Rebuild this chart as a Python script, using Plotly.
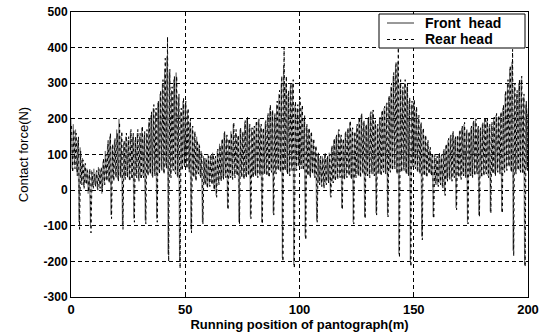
import plotly.graph_objects as go

# ---- data (one peak + one trough per metre) ----
front_peaks = [
    200,185,170,140,120,90,70,60,50,55, 60,50,65,55,80,110,130,150,120,140,
    170,200,150,130,150,140,165,150,140,160, 150,175,150,160,190,210,230,220,245,270,
    300,340,375,330,280,310,330,260,220,250,
    240,220,190,175,160,150,130,110,95,90, 100,95,105,90,110,130,140,160,150,140,
    165,185,160,150,170,160,190,200,180,170, 175,190,195,180,170,190,210,230,220,210,
    240,270,300,350,300,270,290,300,240,230,
    250,230,200,180,170,160,140,120,100,90, 95,100,90,105,120,140,150,165,150,140,
    160,170,190,170,160,180,200,210,190,180, 200,215,220,190,180,200,220,230,240,260,
    290,320,350,360,300,280,300,290,250,240,
    245,225,205,185,170,150,135,115,100,95, 90,100,95,110,125,140,150,160,145,150,
    165,175,185,165,160,175,190,195,175,170, 185,200,195,180,185,200,210,205,215,230,
    270,300,340,360,290,270,300,310,260,240,
]
front_troughs = [
    60,70,50,-90,20,10,20,-10,-100,10, 15,5,10,-10,20,30,25,-70,30,40,
    30,40,-100,35,40,30,35,-80,40,30, 35,40,-85,45,50,40,45,-80,50,60,
    50,70,-180,40,60,50,40,-200,60,70,
    70,60,-110,40,30,50,40,-90,20,10, 15,20,5,-15,20,30,35,40,-50,40,
    35,40,45,-90,40,35,40,45,-75,40, 45,40,45,-90,50,45,40,55,-65,50,
    60,55,-190,60,50,45,60,-210,60,70,
    70,60,-130,45,40,50,40,-85,20,15, 10,20,25,-15,25,30,35,40,-50,35,
    40,45,35,-90,40,45,40,50,-75,45, 40,50,45,-65,50,45,55,50,-70,55,
    60,65,50,-180,55,60,50,45,-200,70,
    65,55,50,-130,45,40,50,45,-75,20, 15,20,10,-10,30,35,30,40,-50,40,
    35,45,40,-90,45,40,45,50,-70,40, 45,50,40,-60,50,45,55,50,-60,55,
    60,70,55,-170,50,60,55,50,-210,60,
]
rear_peaks = [
    180,170,160,150,110,85,75,55,60,50, 45,55,60,65,90,100,140,160,130,145,
    160,190,165,140,160,150,170,160,150,170, 160,180,165,170,200,220,240,230,250,280,
    310,370,430,340,290,320,320,270,230,260,
    250,230,200,180,165,140,125,105,90,85, 95,100,100,95,115,125,145,165,155,145,
    160,190,170,155,175,165,195,205,185,175, 180,195,200,185,175,195,215,240,225,215,
    250,280,320,400,320,280,300,310,250,240,
    260,240,210,185,175,165,145,125,105,95, 90,105,95,100,125,145,155,170,155,145,
    165,175,195,175,165,185,205,215,195,185, 205,220,225,195,185,205,225,235,245,265,
    300,330,360,400,310,290,310,300,260,250,
    255,235,210,190,175,155,140,120,105,100, 95,105,100,115,130,145,155,165,150,155,
    170,180,190,170,165,180,195,200,180,175, 190,205,200,185,190,205,215,210,220,240,
    280,310,350,395,300,280,310,320,270,250,
]
rear_troughs = [
    50,60,40,-110,15,5,15,-5,-120,5, 10,0,5,-5,15,25,20,-80,25,35,
    25,35,-110,30,35,25,30,-90,35,25, 30,35,-95,40,45,35,40,-90,45,55,
    45,60,-200,35,55,45,35,-220,55,65,
    60,50,-120,35,25,45,35,-95,15,5, 10,15,0,-20,15,25,30,35,-55,35,
    30,35,40,-95,35,30,35,40,-80,35, 40,35,40,-95,45,40,35,50,-70,45,
    55,50,-200,55,45,40,55,-220,55,65,
    60,55,-140,40,35,45,35,-90,15,10, 5,15,20,-20,20,25,30,35,-55,30,
    35,40,30,-95,35,40,35,45,-80,40, 35,45,40,-70,45,40,50,45,-75,50,
    55,60,45,-190,50,55,45,40,-215,65,
    60,50,45,-140,40,35,45,40,-80,15, 10,15,5,-15,25,30,25,35,-55,35,
    30,40,35,-95,40,35,40,45,-75,35, 40,45,35,-65,45,40,50,45,-65,50,
    55,65,50,-185,45,55,50,45,-215,55,
]
front_end = 230
rear_end = 220

x_ticks = [0, 50, 100, 150, 200]
y_ticks = [-300, -200, -100, 0, 100, 200, 300, 400, 500]
series_names = ["Front  head", "Rear head"]


def build(peaks, troughs, end, off_p, off_t):
    xs, ys = [], []
    for m, (p, t) in enumerate(zip(peaks, troughs)):
        xs += [m + off_p, m + off_t]
        ys += [p, t]
    xs.append(len(peaks))
    ys.append(end)
    return xs, ys


fx, fy = build(front_peaks, front_troughs, front_end, 0.0, 0.5)
rx, ry = build(rear_peaks, rear_troughs, rear_end, 0.25, 0.75)

front_line = dict(color="#4a4a4a", width=0.6)
rear_line = dict(color="#000000", width=1, dash="dot")

fig = go.Figure()
fig.add_trace(go.Scatter(x=fx, y=fy, mode="lines", name=series_names[0],
                         line=front_line, showlegend=False))
fig.add_trace(go.Scatter(x=rx, y=ry, mode="lines", name=series_names[1],
                         line=rear_line, showlegend=False))

W, H = 550, 336
PL, PT, PW, PH = 71, 12, 457, 285


def px(x):
    return (x - PL) / PW


def py(y):
    return 1 - (y - PT) / PH


font_family = "Liberation Sans, Arial, sans-serif"

# legend box drawn as shapes + text (MATLAB-style compact legend)
shapes = [
    dict(type="rect", xref="paper", yref="paper", x0=px(379), x1=px(525), y0=py(48), y1=py(14),
         line=dict(color="black", width=1), fillcolor="white", layer="above"),
    dict(type="line", xref="paper", yref="paper", x0=px(387), x1=px(414), y0=py(23), y1=py(23),
         line=dict(color="#333333", width=1), layer="above"),
    dict(type="line", xref="paper", yref="paper", x0=px(387), x1=px(414), y0=py(39.5), y1=py(39.5),
         line=dict(color="black", width=1, dash="dot"), layer="above"),
]
annotations = [
    dict(text="<b>%s</b>" % series_names[0], xref="paper", yref="paper", x=px(423), y=py(22.5),
         xanchor="left", yanchor="middle", showarrow=False, font=dict(size=14, family=font_family)),
    dict(text="<b>%s</b>" % series_names[1], xref="paper", yref="paper", x=px(423), y=py(39.5),
         xanchor="left", yanchor="middle", showarrow=False, font=dict(size=14, family=font_family)),
]

fig.update_layout(
    width=W, height=H,
    margin=dict(l=PL, r=W - PL - PW, t=PT, b=H - PT - PH, autoexpand=False),
    paper_bgcolor="white", plot_bgcolor="white",
    font=dict(family=font_family, color="black", size=12),
    showlegend=False,
    shapes=shapes, annotations=annotations,
    xaxis=dict(range=[0, 200], tickvals=x_ticks, ticktext=["<b>%d</b>" % v for v in x_ticks],
               automargin=False,
               showgrid=True, gridcolor="black", gridwidth=1, griddash="4px,3px",
               zeroline=False, showline=True, linecolor="black", linewidth=1, mirror=True,
               ticks="inside", ticklen=4, tickcolor="black",
               tickfont=dict(size=13),
               title=dict(text="<b>Running position of pantograph(m)</b>", standoff=2,
                          font=dict(size=13))),
    yaxis=dict(range=[-300, 500], tickvals=y_ticks, ticktext=["<b>%d</b>" % v for v in y_ticks],
               automargin=False,
               showgrid=True, gridcolor="black", gridwidth=1, griddash="4px,3px",
               zeroline=False, showline=True, linecolor="black", linewidth=1, mirror=True,
               ticks="inside", ticklen=4, tickcolor="black",
               tickfont=dict(size=12),
               title=dict(text="Contact force(N)", standoff=12, font=dict(size=13))),
)

fig.write_html("out.html", config={"displayModeBar": False},
               post_script="document.body.style.margin='0';document.body.style.overflow='hidden';")
